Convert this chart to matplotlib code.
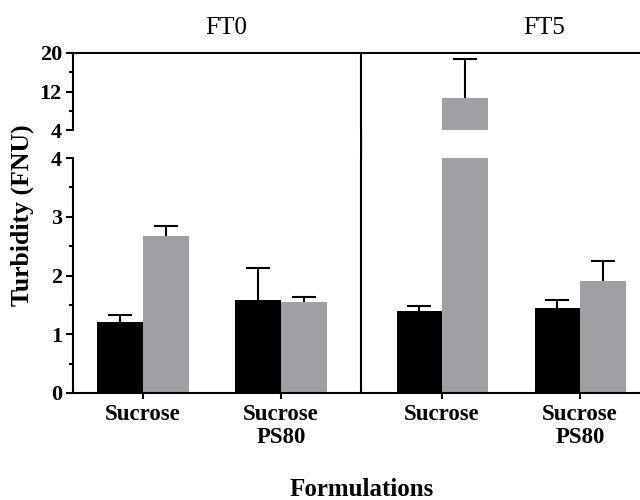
import matplotlib.pyplot as plt
import numpy as np
from matplotlib.patches import ConnectionPatch
from matplotlib.ticker import MultipleLocator, FixedLocator

plt.rcParams['font.family'] = ['Liberation Serif', 'DejaVu Serif']

# datos
grupos = ['FT0', 'FT5']
formulaciones = ['Sucrose', 'Sucrose\nPS80', 'Sucrose', 'Sucrose\nPS80']
media_negro = [1.21, 1.58, 1.40, 1.45]
error_negro = [0.12, 0.54, 0.08, 0.13]
media_gris = [2.67, 1.55, 10.7, 1.91]
error_gris = [0.17, 0.08, 8.0, 0.33]

# posiciones de los grupos (FT0 | FT5)
pos = np.array([0.0, 1.0, 2.167, 3.167])
ancho = 0.33
x_div = 1.58
xlim = (-0.507, 3.601)
pos_titulos = [0.60, 2.91]

color_gris = '#a0a0a4'
lw = 1.5

fig = plt.figure(figsize=(6.4, 5), dpi=100)
ax_top = fig.add_axes([73/640, 370/500, 567/640, 77/500])
ax_bot = fig.add_axes([73/640, 107/500, 567/640, 235/500])

series = [(pos - ancho/2, media_negro, error_negro, 'black'),
          (pos + ancho/2, media_gris, error_gris, color_gris)]

for ax in (ax_top, ax_bot):
    for x, m, e, c in series:
        m = np.array(m)
        e = np.array(e)
        # solo barra de error superior, sin tapa en la base
        ax.vlines(x, m, m + e, color='black', lw=lw, zorder=1)
        ax.plot(x, m + e, ls='none', marker='_', markersize=17,
                mew=lw, color='black', zorder=1)
        ax.bar(x, m, ancho, color=c, zorder=2)
    ax.set_xlim(*xlim)
    ax.axvline(x_div, color='black', lw=lw)
    ax.spines['right'].set_visible(False)
    ax.spines['left'].set_linewidth(lw)
    ax.tick_params(axis='y', which='major', length=5, width=lw, labelsize=16, pad=3)
    ax.tick_params(axis='y', which='minor', length=3, width=lw)

# eje superior (4 - 20)
ax_top.set_ylim(4, 20)
ax_top.yaxis.set_major_locator(FixedLocator([4, 12, 20]))
ax_top.yaxis.set_minor_locator(FixedLocator([8, 16]))
ax_top.spines['bottom'].set_visible(False)
ax_top.spines['top'].set_linewidth(lw)
ax_top.set_xticks([])

# eje inferior (0 - 4)
ax_bot.set_ylim(0, 4)
ax_bot.yaxis.set_major_locator(MultipleLocator(1))
ax_bot.yaxis.set_minor_locator(MultipleLocator(0.5))
ax_bot.spines['top'].set_visible(False)
ax_bot.spines['bottom'].set_linewidth(lw)
ax_bot.set_xticks(pos)
ax_bot.set_xticklabels(formulaciones, fontsize=16.5, fontweight='bold', linespacing=1.1)
ax_bot.tick_params(axis='x', length=4, width=lw, pad=4)

for ax in (ax_top, ax_bot):
    for lab in ax.get_yticklabels():
        lab.set_fontweight('bold')

# linea divisoria continua entre los dos ejes
con = ConnectionPatch(xyA=(x_div, 4), coordsA=ax_top.transData,
                      xyB=(x_div, 4), coordsB=ax_bot.transData,
                      color='black', lw=lw)
fig.add_artist(con)

# titulos de grupo
for g, c in zip(grupos, pos_titulos):
    ax_top.text(c, 1.32, g, transform=ax_top.get_xaxis_transform(),
                ha='center', va='center', fontsize=18)

fig.text(22/640, 0.57, 'Turbidity (FNU)', rotation=90, ha='center', va='center',
         fontsize=18.5, fontweight='bold')
fig.text(362/640, 11/500, 'Formulations', ha='center', va='center',
         fontsize=18, fontweight='bold')

plt.savefig('out.png', dpi=100)
